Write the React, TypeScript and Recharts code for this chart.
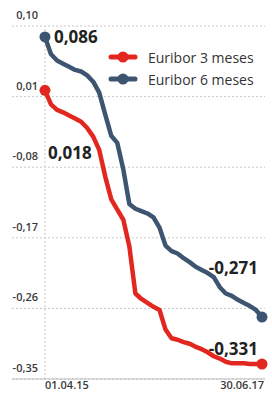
import { LineChart, Line, XAxis, YAxis, CartesianGrid, ReferenceLine } from "recharts"

// x = step index from 01.04.15 (0) to 30.06.17 (36)
const STEPS = Array.from({ length: 37 }, (_, i) => i)
const EURIBOR_3M = [
  0.018, 0.0, -0.007, -0.01, -0.014, -0.018, -0.022, -0.03, -0.041, -0.058,
  -0.092, -0.121, -0.134, -0.147, -0.181, -0.241, -0.248, -0.253, -0.258, -0.262,
  -0.287, -0.298, -0.3, -0.303, -0.305, -0.309, -0.312, -0.316, -0.321, -0.324,
  -0.328, -0.33, -0.33, -0.33, -0.331, -0.331, -0.331,
]
const EURIBOR_6M = [
  0.086, 0.064, 0.056, 0.052, 0.048, 0.044, 0.042, 0.037, 0.029, 0.015,
  -0.013, -0.04, -0.049, -0.083, -0.127, -0.133, -0.136, -0.139, -0.144, -0.157,
  -0.18, -0.187, -0.19, -0.196, -0.201, -0.207, -0.211, -0.215, -0.22, -0.233,
  -0.241, -0.244, -0.249, -0.253, -0.257, -0.262, -0.271,
]
const Y_TICKS = [0.1, 0.01, -0.08, -0.17, -0.26, -0.35]
const X_LABELS = ["01.04.15", "30.06.17"]
const SERIES_NAMES = ["Euribor 3 meses", "Euribor 6 meses"]

const RED = "#e1271f"
const BLUE = "#3e5572"
const LAST = STEPS.length - 1

const data = STEPS.map((s, i) => ({ s, m3: EURIBOR_3M[i], m6: EURIBOR_6M[i] }))

const fmt = (v: number) => v.toFixed(2).replace(".", ",")
const fmt3 = (v: number) => v.toFixed(3).replace(".", ",")

function YTick(props: any) {
  const { y, payload } = props
  return (
    <text x={38} y={y - 7} textAnchor="end" fontSize={11} fontWeight={600} fill="#3a3a3a" fontFamily="Open Sans">
      {fmt(payload.value)}
    </text>
  )
}

function XTick(props: any) {
  const { x, y, payload } = props
  const first = payload.value === 0
  return (
    <text x={first ? x : x + 2} y={y + 8} textAnchor={first ? "start" : "end"} fontSize={11} fontWeight={600} fill="#3a3a3a" fontFamily="Open Sans">
      {first ? X_LABELS[0] : X_LABELS[1]}
    </text>
  )
}

const endDot = (color: string) => (props: any) => {
  const { cx, cy, index } = props
  if (index !== 0 && index !== LAST) return <g key={index} />
  return <circle key={index} cx={cx} cy={cy} r={5.5} fill={color} />
}

const valueLabel = (offsets: Record<number, [number, number, string]>) => (props: any) => {
  const { x, y, index, value } = props
  const o = offsets[index]
  if (!o) return <g key={index} />
  return (
    <text key={index} x={x + o[0]} y={y + o[1]} textAnchor={o[2] as any} dominantBaseline="central"
      fontSize={17} fontWeight={700} fill="#222" fontFamily="Open Sans">
      {fmt3(value)}
    </text>
  )
}

function LegendBox() {
  const colors = [RED, BLUE]
  return (
    <div style={{ position: "absolute", top: 46, left: 108, fontFamily: "Open Sans", fontSize: 14, color: "#333" }}>
      {SERIES_NAMES.map((label, i) => (
        <div key={label} style={{ display: "flex", alignItems: "center", height: 22 }}>
          <svg width={30} height={12} style={{ marginRight: 10 }}>
            <line x1={3} y1={6} x2={27} y2={6} stroke={colors[i]} strokeWidth={5} strokeLinecap="round" />
            <circle cx={15} cy={6} r={5.5} fill={colors[i]} />
          </svg>
          {label}
        </div>
      ))}
    </div>
  )
}

export default function App() {
  return (
    <div style={{ position: "absolute", left: 0, top: 0, width: 272, height: 394, background: "#fff" }}>
      <LineChart width={272} height={394} data={data} margin={{ top: 26, right: 7, bottom: 0, left: 0 }}>
        <CartesianGrid vertical={false} stroke="#c8c8c8" strokeDasharray="2 2" />
        <XAxis dataKey="s" type="number" domain={[-5.47, 36.5]} ticks={[0, LAST]} height={15}
          tick={<XTick />} tickLine={false} axisLine={{ stroke: "#bdbdbd" }} tickSize={0} />
        <YAxis type="number" domain={[-0.35, 0.1]} ticks={Y_TICKS} width={12}
          tick={<YTick />} tickLine={false} axisLine={false} />
        <ReferenceLine x={0} stroke="#c8c8c8" strokeDasharray="2 2" />
        <Line type="linear" dataKey="m6" stroke={BLUE} strokeWidth={4.5} strokeLinejoin="round"
          dot={endDot(BLUE)} activeDot={false} isAnimationActive={false}
          label={valueLabel({ 0: [9, 0, "start"], [LAST]: [-4, -50, "end"] })} />
        <Line type="linear" dataKey="m3" stroke={RED} strokeWidth={4.5} strokeLinejoin="round"
          dot={endDot(RED)} activeDot={false} isAnimationActive={false}
          label={valueLabel({ 0: [3, 62, "start"], [LAST]: [-4, -16, "end"] })} />
      </LineChart>
      <LegendBox />
    </div>
  )
}
